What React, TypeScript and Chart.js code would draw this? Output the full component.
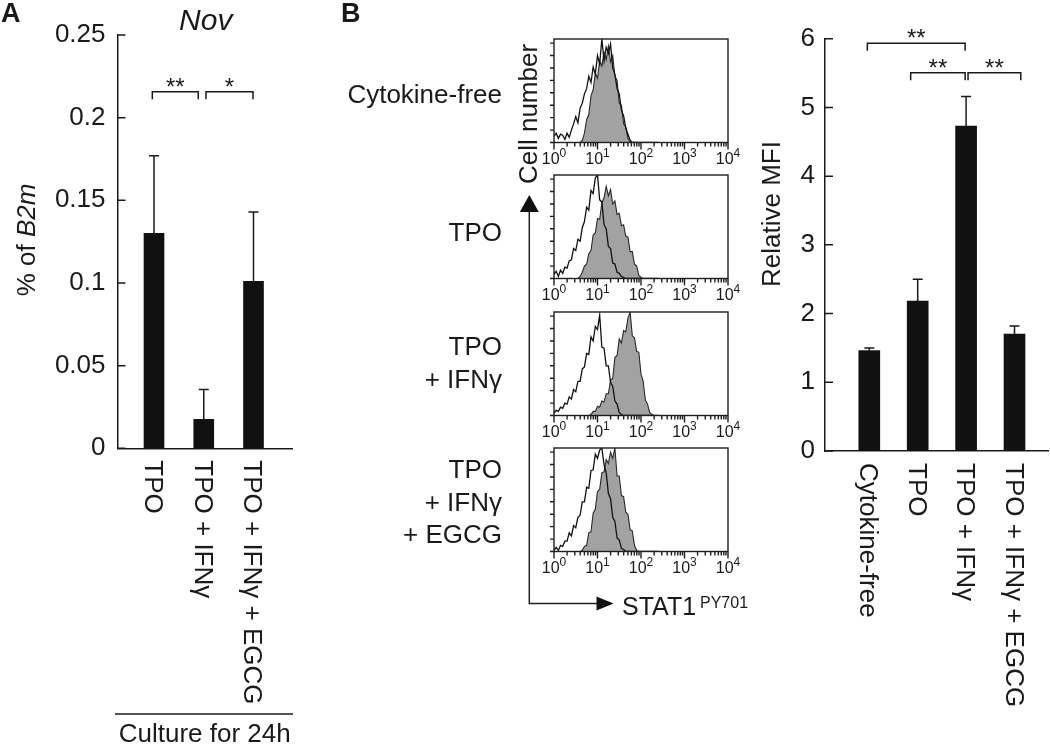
import React, { useEffect, useRef } from 'react';
import { Chart, registerables } from 'chart.js';
Chart.register(...registerables);

const FONT = "'Liberation Sans', Arial, Helvetica, sans-serif";
const INK = '#1a1a1a';
const BAR = '#111111';
const GREY = '#a2a2a2';

// ---------- Panel A data ----------
const A_CATEGORIES = ['TPO', 'TPO + IFNγ', 'TPO + IFNγ + EGCG'];
const A_MEANS = [0.13, 0.0175, 0.101];
const A_SD = [0.047, 0.018, 0.042];
const A_TICK_LABELS = ['0', '0.05', '0.1', '0.15', '0.2', '0.25'];
const A_STEP = 0.05;
const A_BRACKETS = [
  { x1: -0.034, x2: 0.89, y: 0.2157, label: '**' },
  { x1: 1.045, x2: 1.99, y: 0.2157, label: '*' },
];

// ---------- Panel B (bar) data ----------
const B_CATEGORIES = ['Cytokine-free', 'TPO', 'TPO + IFNγ', 'TPO + IFNγ + EGCG'];
const B_MEANS = [1.46, 2.18, 4.73, 1.7];
const B_SD = [0.04, 0.32, 0.43, 0.12];
const B_TICK_LABELS = ['0', '1', '2', '3', '4', '5', '6'];
const B_STEP = 1;
const B_BRACKETS = [
  { x1: -0.04, x2: 1.98, y: 5.933, label: '**' },
  { x1: 0.855, x2: 1.98, y: 5.505, label: '**' },
  { x1: 2.04, x2: 3.13, y: 5.505, label: '**' },
];

// ---------- Panel B (histograms) data ----------
const HIST_LABELS = [['Cytokine-free'], ['TPO'], ['TPO', '+ IFNγ'], ['TPO', '+ IFNγ', '+ EGCG']];
const HIST_DECADES = [0, 1, 2, 3, 4];
const HIST_Y_TICKS = [0, 12, 24, 36, 48, 60, 72, 84, 96];
const LOG_BINS = [0, 0.05, 0.1, 0.15, 0.2, 0.25, 0.3, 0.35, 0.4, 0.45, 0.5, 0.55, 0.6, 0.65, 0.7, 0.75, 0.8, 0.85, 0.9, 0.95, 1, 1.05, 1.1, 1.15, 1.2, 1.25, 1.3, 1.35, 1.4, 1.45, 1.5, 1.55, 1.6, 1.65, 1.7, 1.75, 1.8, 1.85, 1.9, 1.95, 2, 2.05, 2.1, 2.15, 2.2, 2.25, 2.3, 2.35, 2.4];
const H1_OUTLINE = [6, 9, 4, 8, 7, 3, 9, 5, 12, 18, 25, 19, 33, 38, 47, 52, 64, 58, 73, 66, 84, 76, 100, 79, 92, 86, 95, 72, 66, 52, 47, 31, 26, 14, 8, 2, 0, 0, 0, 0, 0, 0, 0, 0, 0, 0, 0, 0, 0];
const H1_FILLED = [0, 0, 0, 0, 0, 0, 0, 0, 0, 0, 0, 0, 0, 2, 9, 22, 27, 45, 51, 67, 62, 79, 74, 87, 80, 93, 78, 84, 64, 60, 38, 36, 18, 15, 4, 1, 0, 0, 0, 0, 0, 0, 0, 0, 0, 0, 0, 0, 0];
const H2_OUTLINE = [4, 7, 2, 8, 5, 11, 10, 17, 18, 29, 27, 38, 36, 49, 55, 69, 66, 85, 82, 97, 100, 76, 74, 52, 48, 31, 29, 15, 14, 6, 5, 2, 1, 0, 0, 0, 0, 0, 0, 0, 0, 0, 0, 0, 0, 0, 0, 0, 0];
const H2_FILLED = [0, 0, 0, 0, 0, 0, 0, 0, 0, 0, 0, 0, 2, 6, 12, 14, 24, 27, 42, 44, 58, 57, 73, 78, 89, 80, 86, 72, 75, 62, 63, 51, 52, 41, 40, 26, 26, 14, 12, 3, 1, 0, 0, 0, 0, 0, 0, 0, 0];
const H3_OUTLINE = [2, 5, 4, 8, 7, 12, 11, 18, 16, 25, 23, 33, 33, 45, 47, 60, 59, 76, 72, 86, 83, 97, 66, 65, 48, 48, 32, 28, 14, 11, 3, 1, 0, 0, 0, 0, 0, 0, 0, 0, 0, 0, 0, 0, 0, 0, 0, 0, 0];
const H3_FILLED = [0, 0, 0, 0, 0, 0, 0, 0, 0, 0, 0, 0, 0, 0, 0, 0, 0, 1, 4, 4, 9, 8, 14, 13, 21, 21, 34, 36, 56, 58, 74, 70, 82, 81, 94, 100, 77, 75, 62, 61, 40, 33, 15, 11, 3, 1, 0, 0, 0];
const H4_OUTLINE = [1, 4, 1, 6, 5, 10, 10, 18, 15, 25, 23, 33, 35, 48, 48, 62, 61, 78, 79, 94, 90, 98, 100, 84, 76, 56, 51, 33, 29, 13, 11, 3, 2, 0, 0, 0, 0, 0, 0, 0, 0, 0, 0, 0, 0, 0, 0, 0, 0];
const H4_FILLED = [0, 0, 0, 0, 0, 0, 0, 0, 0, 0, 0, 0, 0, 1, 5, 6, 18, 19, 37, 41, 58, 60, 76, 77, 89, 85, 96, 90, 100, 73, 73, 54, 53, 38, 36, 21, 20, 6, 1, 0, 0, 0, 0, 0, 0, 0, 0, 0, 0];
const HIST_OUTLINES = [H1_OUTLINE, H2_OUTLINE, H3_OUTLINE, H4_OUTLINE];
const HIST_FILLED = [H1_FILLED, H2_FILLED, H3_FILLED, H4_FILLED];

// ---------- layout (not data) ----------
const HIST_CANVAS_LEFT = 330;
const HIST_CANVAS_WIDTH = 420;
const HIST_BOX_LEFT = 554;
const HIST_BOX_RIGHT = 728;
const HIST_LABEL_RIGHT = 502;
const HIST_BOX_TOPS = [39, 175, 312, 448];
const HIST_LABEL_BASE = [63.7, 65.7, 43, 30];

type TitlePart = { text: string; italic: boolean };

type BarPanel = {
  categories: string[];
  means: number[];
  sd: number[];
  tickLabels: string[];
  step: number;
  xMin: number;
  xMax: number;
  barWidth: number;
  pad: { left: number; right: number; top: number; bottom: number };
  yAxisWidth: number;
  xAxisHeight: number;
  tickPad: number;
  brackets: { x1: number; x2: number; y: number; label: string }[];
  titleParts: TitlePart[];
  titleAnchorX: number;
  titleCenterY: number;
  extra?: (chart: any) => void;
};

function barConfig(p: BarPanel): any {
  const decor = {
    id: 'barDecor',
    afterDraw(chart: any) {
      const { ctx, chartArea: a } = chart;
      const xs = chart.scales.x;
      const ys = chart.scales.y;
      ctx.save();
      ctx.strokeStyle = INK;
      ctx.fillStyle = INK;
      ctx.lineWidth = 1.5;
      ctx.beginPath();
      p.tickLabels.forEach((_, i) => {
        const y = ys.getPixelForValue(i * p.step);
        ctx.moveTo(a.left, y);
        ctx.lineTo(a.left + 8, y);
      });
      p.means.forEach((m, i) => {
        const x = xs.getPixelForValue(i);
        const yb = ys.getPixelForValue(m);
        const yt = ys.getPixelForValue(m + p.sd[i]);
        ctx.moveTo(x, yb);
        ctx.lineTo(x, yt);
        ctx.moveTo(x - 5, yt);
        ctx.lineTo(x + 5, yt);
      });
      p.brackets.forEach((b) => {
        const x1 = xs.getPixelForValue(b.x1);
        const x2 = xs.getPixelForValue(b.x2);
        const y = ys.getPixelForValue(b.y);
        ctx.moveTo(x1, y + 7.5);
        ctx.lineTo(x1, y);
        ctx.lineTo(x2, y);
        ctx.lineTo(x2, y + 7.5);
      });
      ctx.stroke();

      ctx.font = `24px ${FONT}`;
      ctx.textAlign = 'center';
      ctx.textBaseline = 'alphabetic';
      p.brackets.forEach((b) => {
        const x1 = xs.getPixelForValue(b.x1);
        const x2 = xs.getPixelForValue(b.x2);
        const y = ys.getPixelForValue(b.y);
        ctx.fillText(b.label, (x1 + x2) / 2, y + 3);
      });

      ctx.font = `26px ${FONT}`;
      ctx.textAlign = 'left';
      p.categories.forEach((c, i) => {
        ctx.save();
        ctx.translate(xs.getPixelForValue(i) - 9, a.bottom + 12);
        ctx.rotate(Math.PI / 2);
        ctx.fillText(c, 0, 0);
        ctx.restore();
      });

      // rotated y title
      ctx.save();
      ctx.translate(p.titleAnchorX, p.titleCenterY);
      ctx.rotate(-Math.PI / 2);
      const widths = p.titleParts.map((t) => {
        ctx.font = `${t.italic ? 'italic ' : ''}26px ${FONT}`;
        return ctx.measureText(t.text).width;
      });
      const total = widths.reduce((s, w) => s + w, 0);
      let cx = -total / 2;
      p.titleParts.forEach((t, i) => {
        ctx.font = `${t.italic ? 'italic ' : ''}26px ${FONT}`;
        ctx.fillText(t.text, cx, 0);
        cx += widths[i];
      });
      ctx.restore();

      if (p.extra) p.extra(chart);
      ctx.restore();
    },
  };
  return {
    type: 'bar',
    data: {
      datasets: [
        {
          data: p.means.map((m, i) => ({ x: i, y: m })),
          backgroundColor: BAR,
          barThickness: p.barWidth,
          borderWidth: 0,
        },
      ],
    },
    options: {
      animation: false,
      responsive: false,
      devicePixelRatio: 1,
      events: [],
      layout: { padding: p.pad },
      plugins: { legend: { display: false }, tooltip: { enabled: false } },
      scales: {
        x: {
          type: 'linear',
          offset: false,
          min: p.xMin,
          max: p.xMax,
          grid: { display: false, drawTicks: false },
          ticks: { display: false },
          border: { display: true, color: INK, width: 1.5 },
          afterFit: (s: any) => {
            s.height = p.xAxisHeight;
          },
        },
        y: {
          type: 'linear',
          min: 0,
          max: p.step * (p.tickLabels.length - 1),
          grid: { display: false, drawTicks: false },
          border: { display: true, color: INK, width: 1.5 },
          ticks: {
            stepSize: p.step,
            color: INK,
            font: { family: FONT, size: 26 },
            padding: p.tickPad,
            callback: (v: number) => p.tickLabels[Math.round(v / p.step)] ?? '',
          },
          afterFit: (s: any) => {
            s.width = p.yAxisWidth;
          },
        },
      },
    },
    plugins: [decor],
  };
}

function panelAConfig() {
  return barConfig({
    categories: A_CATEGORIES,
    means: A_MEANS,
    sd: A_SD,
    tickLabels: A_TICK_LABELS,
    step: A_STEP,
    xMin: -0.734,
    xMax: 2.774,
    barWidth: 20,
    pad: { left: 0, right: 38, top: 35, bottom: 0 },
    yAxisWidth: 117.5,
    xAxisHeight: 295.7,
    tickPad: 12,
    brackets: A_BRACKETS,
    titleParts: [
      { text: '% of ', italic: false },
      { text: 'B2m', italic: true },
    ],
    titleAnchorX: 35,
    titleCenterY: 240,
    extra: (chart: any) => {
      const { ctx, chartArea: a } = chart;
      ctx.fillStyle = INK;
      ctx.strokeStyle = INK;
      ctx.textBaseline = 'alphabetic';
      ctx.font = `bold 27px ${FONT}`;
      ctx.textAlign = 'left';
      ctx.fillText('A', 1, 22);
      ctx.font = `italic 30px ${FONT}`;
      ctx.textAlign = 'center';
      ctx.fillText('Nov', (a.left + a.right) / 2 + 1, 30);
      ctx.lineWidth = 1.5;
      ctx.beginPath();
      ctx.moveTo(a.left - 2.5, 714);
      ctx.lineTo(a.right + 1, 714);
      ctx.stroke();
      ctx.font = `26px ${FONT}`;
      ctx.fillText('Culture for 24h', (a.left + a.right) / 2, 742);
    },
  });
}

function panelBConfig() {
  return barConfig({
    categories: B_CATEGORIES,
    means: B_MEANS,
    sd: B_SD,
    tickLabels: B_TICK_LABELS,
    step: B_STEP,
    xMin: -0.915,
    xMax: 3.692,
    barWidth: 21,
    pad: { left: 0, right: 2, top: 38.7, bottom: 0 },
    yAxisWidth: 125,
    xAxisHeight: 293,
    tickPad: 10,
    brackets: B_BRACKETS,
    titleParts: [{ text: 'Relative MFI', italic: false }],
    titleAnchorX: 80,
    titleCenterY: 214,
  });
}

function histConfig(idx: number): any {
  const lines = HIST_LABELS[idx];
  const decor = {
    id: 'histDecor',
    afterDraw(chart: any) {
      const { ctx, chartArea: a } = chart;
      const xs = chart.scales.x;
      const ys = chart.scales.y;
      ctx.save();
      ctx.strokeStyle = '#1e1e1e';
      ctx.fillStyle = INK;
      ctx.lineWidth = 1.4;
      ctx.strokeRect(a.left, a.top, a.right - a.left, a.bottom - a.top);
      ctx.beginPath();
      HIST_DECADES.forEach((d) => {
        for (let k = 1; k <= 9; k++) {
          if (d === 4 && k > 1) break;
          const x = xs.getPixelForValue(d + Math.log10(k));
          const len = k === 1 ? 7 : 4;
          ctx.moveTo(x, a.bottom);
          ctx.lineTo(x, a.bottom + len);
        }
      });
      HIST_Y_TICKS.forEach((v) => {
        const y = ys.getPixelForValue(v);
        ctx.moveTo(a.left - 4, y);
        ctx.lineTo(a.left, y);
      });
      ctx.stroke();

      ctx.textBaseline = 'alphabetic';
      ctx.textAlign = 'left';
      HIST_DECADES.forEach((d) => {
        const x = xs.getPixelForValue(d);
        ctx.font = `16px ${FONT}`;
        const w1 = ctx.measureText('10').width;
        ctx.font = `12px ${FONT}`;
        const w2 = ctx.measureText(String(d)).width;
        const start = x - (w1 + w2) / 2;
        ctx.font = `16px ${FONT}`;
        ctx.fillText('10', start, a.bottom + 21.5);
        ctx.font = `12px ${FONT}`;
        ctx.fillText(String(d), start + w1, a.bottom + 14.5);
      });

      ctx.font = `26px ${FONT}`;
      ctx.textAlign = 'right';
      lines.forEach((t, i) => {
        ctx.fillText(t, HIST_LABEL_RIGHT - HIST_CANVAS_LEFT, a.top + HIST_LABEL_BASE[idx] + i * 32.7);
      });
      ctx.restore();
    },
  };
  return {
    type: 'line',
    data: {
      datasets: [
        {
          data: LOG_BINS.map((x, i) => ({ x, y: HIST_OUTLINES[idx][i] })),
          borderColor: '#111',
          borderWidth: 1.3,
          pointRadius: 0,
          fill: false,
          tension: 0,
        },
        {
          data: LOG_BINS.map((x, i) => ({ x, y: HIST_FILLED[idx][i] })),
          borderColor: '#2a2a2a',
          borderWidth: 1.1,
          backgroundColor: GREY,
          pointRadius: 0,
          fill: 'origin',
          tension: 0,
        },
      ],
    },
    options: {
      animation: false,
      responsive: false,
      devicePixelRatio: 1,
      events: [],
      layout: {
        padding: {
          left: HIST_BOX_LEFT - HIST_CANVAS_LEFT,
          right: HIST_CANVAS_LEFT + HIST_CANVAS_WIDTH - HIST_BOX_RIGHT,
          top: 10,
          bottom: 26.5,
        },
      },
      plugins: { legend: { display: false }, tooltip: { enabled: false } },
      scales: {
        x: { type: 'linear', min: 0, max: 4, display: false },
        y: { type: 'linear', min: 0, max: 100, display: false },
      },
    },
    plugins: [decor],
  };
}

function ChartCanvas(props: { left: number; top: number; width: number; height: number; make: () => any }) {
  const ref = useRef<HTMLCanvasElement>(null);
  useEffect(() => {
    const chart = new Chart(ref.current as HTMLCanvasElement, props.make());
    return () => chart.destroy();
  }, []);
  return (
    <canvas
      ref={ref}
      width={props.width}
      height={props.height}
      style={{ position: 'absolute', left: props.left, top: props.top, width: props.width, height: props.height }}
    />
  );
}

export default function App() {
  return (
    <div
      style={{
        position: 'absolute',
        left: 0,
        top: 0,
        width: 1050,
        height: 744,
        background: '#fff',
        overflow: 'hidden',
        fontFamily: FONT,
        color: INK,
      }}
    >
      <ChartCanvas left={0} top={0} width={330} height={744} make={panelAConfig} />
      {HIST_BOX_TOPS.map((t, i) => (
        <ChartCanvas
          key={i}
          left={HIST_CANVAS_LEFT}
          top={t - 10}
          width={HIST_CANVAS_WIDTH}
          height={140}
          make={() => histConfig(i)}
        />
      ))}
      <ChartCanvas left={700} top={0} width={350} height={744} make={panelBConfig} />
      <svg width={1050} height={744} style={{ position: 'absolute', left: 0, top: 0, pointerEvents: 'none' }}>
        <polyline points="529.3,208 529.3,603.5 598,603.5" fill="none" stroke="#222" strokeWidth={1.5} />
        <polygon points="529.3,195 519.8,212 538.8,212" fill="#111" />
        <polygon points="613.5,603.5 596.5,596.5 596.5,610.5" fill="#111" />
      </svg>
      <div style={{ position: 'absolute', left: 341, top: 0, fontSize: 27, lineHeight: '27px', fontWeight: 'bold' }}>B</div>
      <div
        style={{
          position: 'absolute',
          left: 528 - 90,
          top: 114 - 13,
          width: 180,
          height: 26,
          fontSize: 26,
          lineHeight: '26px',
          textAlign: 'center',
          transform: 'rotate(-90deg)',
          whiteSpace: 'nowrap',
        }}
      >
        Cell number
      </div>
      <div style={{ position: 'absolute', left: 622, top: 593.8, fontSize: 25, lineHeight: '25px', whiteSpace: 'nowrap' }}>
        STAT1
      </div>
      <div style={{ position: 'absolute', left: 700, top: 594.5, fontSize: 16, lineHeight: '16px', whiteSpace: 'nowrap' }}>
        PY701
      </div>
    </div>
  );
}
